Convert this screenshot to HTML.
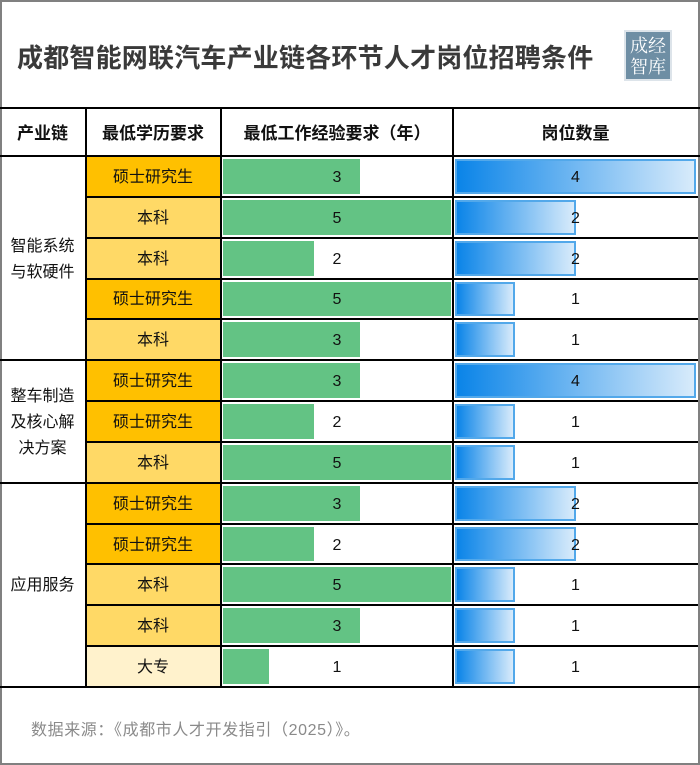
<!DOCTYPE html><html><head><meta charset="utf-8"><style>
*{margin:0;padding:0;box-sizing:border-box}
body{width:700px;height:765px;background:#fff;font-family:"Liberation Sans","Noto Sans CJK SC",sans-serif;position:relative;overflow:hidden}
.frame{position:absolute;left:0;top:0;width:700px;height:765px;border:2px solid #808080}
.title{position:absolute;left:17px;top:38px;font-size:26px;font-weight:bold;color:#3a3a3a;letter-spacing:0.2px}
.logo{position:absolute;left:624px;top:30px;width:48px;height:51px;background:#6e8ea4;border:2px solid #dde4ea;color:#fff;font-family:"Noto Serif CJK SC",serif;font-size:18px;line-height:21px;text-align:center;padding-top:3px}
.hl{position:absolute;background:#000}
.cell{position:absolute;display:flex;align-items:center;justify-content:center;font-size:16px;color:#111;text-align:center;line-height:26px;padding-top:3px}
.hd{font-weight:bold;font-size:17px}
.g{position:absolute;background:#63c384}
.b{position:absolute;background:linear-gradient(to right,#0a84e8,#d8ebfb);border:2px solid #52a8ea}
.src{position:absolute;left:31px;top:716px;font-size:16px;color:#8a8a8a;letter-spacing:0.6px}
</style></head><body>
<div class="frame"></div>
<div class="title">成都智能网联汽车产业链各环节人才岗位招聘条件</div>
<div class="logo">成经<br>智库</div>
<div id="t"></div>
<div class="src">数据来源：《成都市人才开发指引（2025）》。</div>
<script>
var rows=[["硕士研究生",3,4],["本科",5,2],["本科",2,2],["硕士研究生",5,1],["本科",3,1],["硕士研究生",3,4],["硕士研究生",2,1],["本科",5,1],["硕士研究生",3,2],["硕士研究生",2,2],["本科",5,1],["本科",3,1],["大专",1,1]];
var col={"硕士研究生":"#ffc000","本科":"#ffd966","大专":"#fff2cc"};
var h='';var y0=156,rh=(687-156)/13;
function L(x,y,w,hh){h+='<div class="hl" style="left:'+x+'px;top:'+y+'px;width:'+w+'px;height:'+hh+'px"></div>';}
function C(x,y,w,hh,t,st){h+='<div class="cell '+(st||'')+'" style="left:'+x+'px;top:'+y+'px;width:'+w+'px;height:'+hh+'px">'+t+'</div>';}
C(0,108,85,48,'产业链','hd');C(85,108,136,48,'最低学历要求','hd');C(221,108,232,48,'最低工作经验要求（年）','hd');C(453,108,245,48,'岗位数量','hd');
rows.forEach(function(r,i){var y=y0+i*rh;
h+='<div style="position:absolute;left:86px;top:'+y+'px;width:135px;height:'+rh+'px;background:'+col[r[0]]+'"></div>';
h+='<div class="g" style="left:223px;top:'+(y+3)+'px;width:'+(r[1]*45.6)+'px;height:'+(rh-6)+'px"></div>';
h+='<div class="b" style="left:455px;top:'+(y+3)+'px;width:'+(r[2]*60.3)+'px;height:'+(rh-6)+'px"></div>';
C(85,y,136,rh,r[0]);C(221,y,232,rh,r[1]);C(453,y,245,rh,r[2]);
if(i>0)L(85,Math.round(y)-1,613,2);});
C(0,156,85,rh*5,'智能系统<br>与软硬件');C(0,156+rh*5,85,rh*3,'整车制造<br>及核心解<br>决方案');C(0,156+rh*8,85,rh*5,'应用服务');
L(0,107,700,2);L(0,155,700,2);L(0,Math.round(156+rh*5)-1,85,2);L(0,Math.round(156+rh*8)-1,85,2);L(0,686,700,2);
L(85,108,1.5,580);L(220,108,1.5,580);L(452,108,1.5,580);
document.getElementById('t').innerHTML=h;
</script>
</body></html>
